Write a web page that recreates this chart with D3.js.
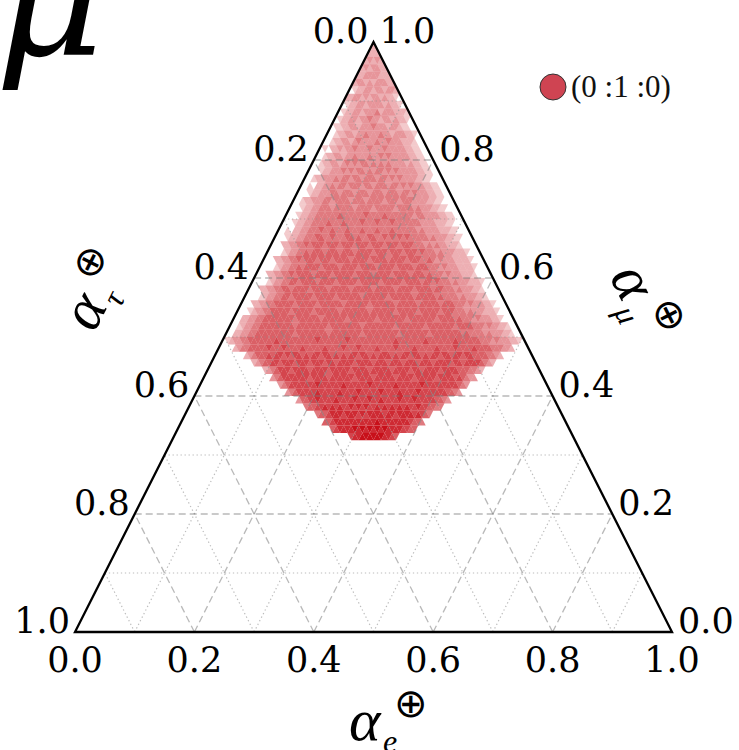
<!DOCTYPE html>
<html><head><meta charset="utf-8">
<script src="https://cdn.jsdelivr.net/npm/d3@7"></script>
<style>html,body{margin:0;padding:0;background:#fff;}svg{display:block;}</style>
</head><body>
<svg id="c" width="739" height="750"></svg>
<script>
// ---- data ----
const SCALE = 80; // heatmap subdivisions
const tickValues = [0.0, 0.2, 0.4, 0.6, 0.8, 1.0];
const gridValues = [0.1, 0.2, 0.3, 0.4, 0.5, 0.6, 0.7, 0.8, 0.9];
const legendLabel = "(0 :1 :0)";
const bigTitle = "μ";
// heatmap rows: row index (alpha_mu level), first filled cell, cell intensities (0-9) left to right
const rowIndex = [79,78,77,76,75,74,73,72,71,70,69,68,67,66,65,64,63,62,61,60,59,58,57,56,55,54,53,52,51,50,49,48,47,46,45,44,43,42,41,40,39,38,37,36,35,34,33,32,31,30,29,28,27,26];
const rowOffset = [0,0,0,0,0,0,1,0,1,1,1,1,2,2,1,2,2,3,2,2,3,2,3,3,3,2,3,3,4,3,4,3,4,3,4,3,3,2,2,2,1,4,8,11,15,18,21,24,28,31,35,38,41,47];
const rowCells = [
"3",
"333",
"34343",
"3434433",
"334444333",
"3443434443 3",
"2334434434 43",
"3344343443 4332",
"2334434444 34332",
"2334434445 34443332",
"2334434454 434434332",
"2233443444 5444344322",
"2334434454 4454434443 32",
"2334434544 4454454443 332",
"2033434454 4454445444 443322",
"2334434454 4454454544 4443322",
"2334434545 4554545454 444343322",
"2334445454 5545455454 5444443322",
"2334445455 4554555455 4545444433 22",
"2033445455 4555455455 5455454544 43322",
"2334445545 5545554555 4555455454 443322",
"2334445545 5554555455 5545554555 44443322",
"2334455545 5555455554 5555545555 454443322",
"2334455555 5655555565 5556555555 5455444433 22",
"2334455556 5556555565 5565556555 5555444433 322",
"2033445556 5565556555 6555655565 5555545444 433322",
"2334455566 5565556656 5566556565 6565555545 4443322",
"3344556566 6566656665 6665666566 6566655545 45443332",
"2344556566 6566656665 6666566656 6656665655 5454443332",
"3344556566 6566656666 5666656666 5666656665 5654544433 332",
"2344556566 6656666566 6656666566 6656666566 6555454443 3332",
"3344556566 6656666566 6665666656 6665666656 6656555454 443332",
"2344556656 6665666656 6666566666 5666665666 6566565554 54443332",
"3344556656 6665666656 6666566666 5666665666 6566665665 5545444332",
"2344556656 6666566666 5666666566 6666566666 6566666565 5554544433 2",
"3344556666 6566666566 6666566666 6566666656 6666566666 5666555454 44332",
"2344556666 6566666566 6666566666 6656666665 6666656666 6566655545 4443332",
"3344556666 6666566666 6566666656 6666665666 6666566666 6656666565 5545444332",
"2344556666 6666656666 6666566666 6665666666 6656666666 5666666656 6665554544 332",
"3344556666 6666665666 6666656666 6666566666 6666566666 6656666666 6565555454 44332",
"2344556666 6667666666 6666766666 6676666666 6666676666 6667666666 6766666655 545444332",
"3455666667 6667666676 6666766667 6667666676 6667666676 6666766667 6666766665 55443",
"3456667677 6767767677 6776767677 6776767776 7677677676 7767767767 766665543",
"3456677677 7677767776 7767777677 7767776777 6777677767 7776776777 76543",
"3456777677 7767777677 7776777767 7777677776 7767777677 776665543",
"4567777777 6777767777 7767777677 7776777767 7777677776 76544",
"4567777777 8777777877 7777877777 7877777787 7777777765 4",
"4567777787 7777877778 7777787777 8777787777 7776654",
"4667787777 8777787778 7787777877 7877777665 4",
"5667787878 7787878778 7878787877 8776655",
"5667888788 8787888878 8788887876 5",
"6678888888 8888988888 8887665",
"6788889898 9898988887 766",
"7889999998 876"
];

// ---- drawing ----
const svg = d3.select("#c");
svg.append("rect").attr("width",739).attr("height",750).attr("fill","#fff");

const xs = d3.scaleLinear().domain([0,1]).range([75,672]);   // alpha_e along base
const ys = d3.scaleLinear().domain([0,1]).range([632,42]);   // alpha_mu height
const op = d3.scaleLinear().domain([0,9]).range([0,1]);
const fmt = d3.format(".1f");
const proj = (e, m) => [xs(e + m/2), ys(m)];
const P = (a, b) => proj(a/SCALE, b/SCALE);

const cells = [];
rowIndex.forEach((r, j) => {
  const s = rowCells[j].replace(/ /g, "");
  const total = 2*(SCALE - r) - 1;
  for (let t = 0; t < s.length; t++) {
    const d = +s[t];
    const k = rowOffset[j] + t;
    if (!d || k >= total) continue;
    const i = Math.floor(k/2);
    const pts = (k % 2 === 0)
      ? [P(i, r), P(i+1, r), P(i, r+1)]
      : [P(i+1, r), P(i+1, r+1), P(i, r+1)];
    cells.push({pts, d});
  }
});

svg.append("g").selectAll("polygon").data(cells).join("polygon")
  .attr("points", c => c.pts.map(p => p.join(",")).join(" "))
  .attr("fill", "#c8101a")
  .attr("fill-opacity", c => op(c.d));

// grid lines
const line = d3.line();
const grid = svg.append("g").attr("fill","none");
gridValues.forEach(v => {
  const even = Math.round(v*10) % 2 === 0;
  const segs = [
    [proj(0, v), proj(1 - v, v)],
    [proj(v, 0), proj(v, 1 - v)],
    [proj(1 - v, 0), proj(0, 1 - v)]
  ];
  segs.forEach(s => {
    grid.append("path").attr("d", line(s))
      .attr("stroke", even ? "#808080" : "#909090")
      .attr("stroke-opacity", even ? 0.55 : 0.6)
      .attr("stroke-width", even ? 1.3 : 1.2)
      .attr("stroke-dasharray", even ? "7,4" : "1.3,2.7");
  });
});

// border
svg.append("path")
  .attr("d", line([proj(0,0), proj(1,0), proj(0,1)]) + "Z")
  .attr("fill","none").attr("stroke","#000").attr("stroke-width",2.3)
  .attr("stroke-linejoin","miter");

// tick labels
const lab = svg.append("g").attr("font-family", "DejaVu Serif").attr("font-size", 35).attr("fill","#000");
tickValues.forEach(v => {
  const b = proj(v, 0);
  lab.append("text").attr("x", b[0]).attr("y", b[1] + 40).attr("text-anchor","middle").text(fmt(v));
  const l = proj(0, 1 - v);
  lab.append("text").attr("x", l[0] - 5).attr("y", l[1] + 1).attr("text-anchor","end").text(fmt(v));
  const rr = proj(1 - v, v);
  lab.append("text").attr("x", rr[0] + 6).attr("y", rr[1] + 1).attr("text-anchor","start").text(fmt(v));
});

// axis titles
function axisTitle(x, y, rot, sub) {
  const g = svg.append("g").attr("transform", `translate(${x},${y}) rotate(${rot})`).attr("fill","#000");
  g.append("text").attr("x", -24).attr("y", 0).attr("font-size", 60)
    .attr("font-family","Liberation Serif").attr("font-style","italic").text("α");
  g.append("text").attr("x", 10).attr("y", 12).attr("font-size", 32)
    .attr("font-family","Liberation Serif").attr("font-style","italic").text(sub);
  g.append("text").attr("x", 21).attr("y", -23).attr("font-size", 40)
    .attr("font-family","DejaVu Sans").attr("font-weight", 300).text("⊕");
}
axisTitle(373, 740, 0, "e");
axisTitle(105, 312, -63, "τ");
axisTitle(620, 298, 63, "μ");

// big flavour title
svg.append("text").attr("x", -5).attr("y", 55)
  .attr("font-family","DejaVu Serif").attr("font-style","italic").attr("font-size", 168)
  .text(bigTitle);

// legend
svg.append("circle").attr("cx", 553).attr("cy", 87).attr("r", 13)
  .attr("fill", "#cf4452").attr("stroke", "#333").attr("stroke-width", 1);
svg.append("text").attr("x", 571).attr("y", 97)
  .attr("font-family","Liberation Serif").attr("font-size", 31).attr("fill","#111")
  .text(legendLabel);
</script>
</body></html>
